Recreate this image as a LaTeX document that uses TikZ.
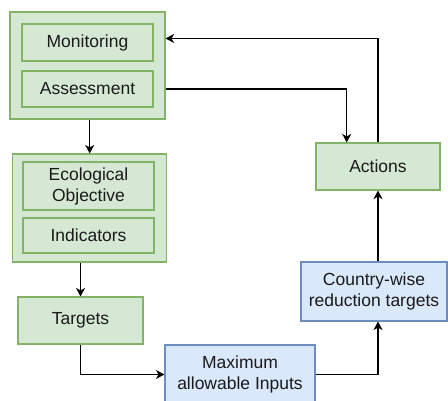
\documentclass[tikz,border=0pt]{standalone}
\usepackage{fontspec}
\setmainfont{Liberation Sans}
\usetikzlibrary{arrows.meta,calc}
\definecolor{gfill}{HTML}{D5E8D4}
\definecolor{gline}{HTML}{82B366}
\definecolor{bfill}{HTML}{DAE8FC}
\definecolor{bline}{HTML}{6C8EBF}
\definecolor{ink}{HTML}{1A1A1A}
\tikzset{
  box/.style={rectangle, inner sep=0pt, line width=1.1pt, align=center,
    font=\fontsize{17.5}{21}\selectfont, text=ink},
  green/.style={box, draw=gline, fill=gfill},
  blue/.style={box, draw=bline, fill=bfill},
  link/.style={draw=black, line width=1.2pt,
    -{Stealth[length=8.5pt,width=9pt,inset=2.5pt]}},
  plain/.style={draw=black, line width=1.2pt},
}
\begin{document}
\begin{tikzpicture}[x=1pt,y=-1pt]
\useasboundingbox (0,0) rectangle (448,400);
% monitoring / assessment group
\node[green, minimum width=155pt, minimum height=107pt] (grpA) at (87.5,65.5) {};
\node[green, minimum width=131pt, minimum height=37pt] (mon) at (87.5,42.5) {Monitoring};
\node[green, minimum width=131pt, minimum height=36pt] (ass) at (87.5,89) {Assessment};
% objective / indicators group
\node[green, minimum width=154pt, minimum height=108pt] (grpB) at (89.7,208) {};
\node[green, minimum width=131pt, minimum height=48pt] (eco) at (88.5,186) {Ecological\\Objective};
\node[green, minimum width=131pt, minimum height=35pt] (ind) at (88.5,235.5) {Indicators};
% single boxes
\node[green, minimum width=125pt, minimum height=47pt] (tgt) at (80.5,320.5) {Targets};
\node[blue, minimum width=150pt, minimum height=59pt] (maxin) at (240,374.5) {Maximum\\allowable Inputs};
\node[blue, minimum width=146pt, minimum height=59pt] (cty) at (374,291.5) {Country-wise\\reduction targets};
\node[green, minimum width=124pt, minimum height=47pt] (act) at (378,166.5) {Actions};
% connectors
\coordinate (backIn) at ($(grpA.north east)!0.25!(grpA.south east)$);
\coordinate (actIn) at ($(act.north west)!0.25!(act.north east)$);
\draw[link] (grpA.south -| grpB.north) -- (grpB.north);
\draw[link] (grpB.south -| tgt.north) -- (tgt.north);
\draw[link] (tgt.south) |- (maxin.west);
\draw[link] (maxin.east) -| (cty.south -| act.south);
\draw[link] (cty.north -| act.south) -- (act.south);
\draw[link] (act.north) |- (backIn);
\draw[link] (grpA.east |- ass.east) -| (actIn);
\end{tikzpicture}
\end{document}
